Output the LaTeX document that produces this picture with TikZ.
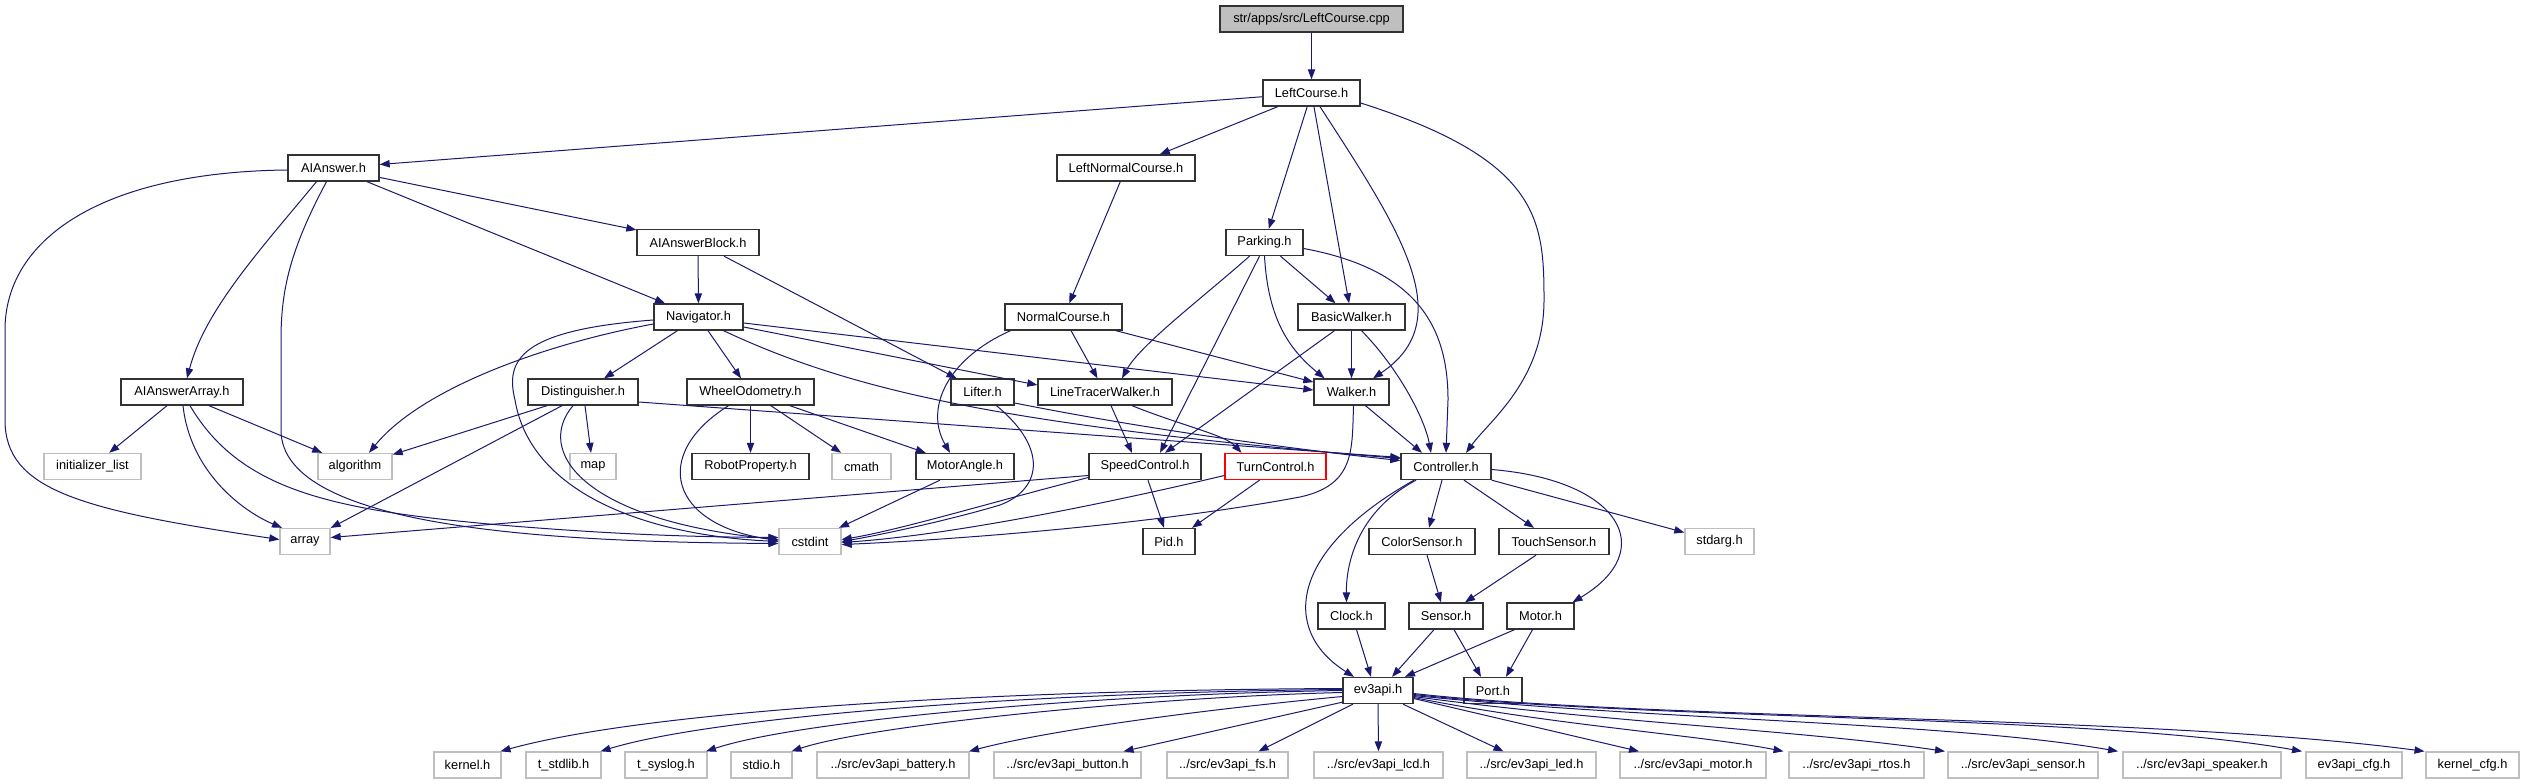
\documentclass[tikz,border=0pt]{standalone}
\usepackage{fontspec}
\setmainfont{Liberation Sans}
\usetikzlibrary{calc, arrows.meta}
\definecolor{navy}{RGB}{25,25,112}

\begin{document}
\begin{tikzpicture}[
  x=0.75pt, y=-0.75pt,
  hdr/.style={draw=black!80, line width=1pt, fill=white, inner sep=0pt,
    minimum height=19.5pt, font=\fontsize{9.6}{11}\selectfont},
  sys/.style={hdr, draw=gray!50},
  wd/.style={minimum width=#1*0.75pt},
  dep/.style={navy, line width=0.75pt, -{Triangle[length=7.5pt,width=5.5pt]}},
]
  \useasboundingbox (0,0) rectangle (2525,784);

  % file and project headers
  \node[hdr, fill=gray!50, wd=183] (root) at (1311.5,19) {str/apps/src/LeftCourse.cpp};
  \node[hdr, wd=97]  (lc)     at (1311.5,93)  {LeftCourse.h};
  \node[hdr, wd=91]  (aia)    at (333.5,168)  {AIAnswer.h};
  \node[hdr, wd=138] (lnc)    at (1126,168)   {LeftNormalCourse.h};
  \node[hdr, wd=122] (aib)    at (698,242.5)  {AIAnswerBlock.h};
  \node[hdr, wd=77]  (park)   at (1264.5,242.5) {Parking.h};
  \node[hdr, wd=89]  (nav)    at (698.5,317)  {Navigator.h};
  \node[hdr, wd=117] (nc)     at (1063.5,317) {NormalCourse.h};
  \node[hdr, wd=107] (basicw) at (1351.5,317) {BasicWalker.h};
  \node[hdr, wd=122] (aiarr)  at (182,392)    {AIAnswerArray.h};
  \node[hdr, wd=110] (dist)   at (583,392)    {Distinguisher.h};
  \node[hdr, wd=127] (wodo)   at (750.5,392)  {WheelOdometry.h};
  \node[hdr, wd=63]  (lift)   at (982.5,392)  {Lifter.h};
  \node[hdr, wd=134] (ltw)    at (1105,392)   {LineTracerWalker.h};
  \node[hdr, wd=75]  (walk)   at (1351.5,392) {Walker.h};
  \node[sys, wd=97]  (init)   at (92.5,466.5) {initializer\_list};
  \node[sys, wd=74]  (algo)   at (355,466.5)  {algorithm};
  \node[sys, wd=46]  (map)    at (593,466.5)  {map};
  \node[hdr, wd=117] (robot)  at (750.5,466.5) {RobotProperty.h};
  \node[sys, wd=59]  (cmath)  at (861.5,466.5) {cmath};
  \node[hdr, wd=98]  (mang)   at (965,466.5)  {MotorAngle.h};
  \node[hdr, wd=112] (spd)    at (1145,466.5) {SpeedControl.h};
  \node[hdr, draw=red, wd=101] (turn) at (1275.5,466.5) {TurnControl.h};
  \node[hdr, wd=90]  (ctrl)   at (1446,466.5) {Controller.h};
  \node[sys, wd=50]  (arr)    at (305,541.5)  {array};
  \node[sys, wd=62]  (cstd)   at (810,541.5)  {cstdint};
  \node[hdr, wd=52]  (pid)    at (1169,541.5) {Pid.h};
  \node[hdr, wd=106] (color)  at (1422,541.5) {ColorSensor.h};
  \node[hdr, wd=110] (touch)  at (1554,541.5) {TouchSensor.h};
  \node[sys, wd=69]  (stdarg) at (1719.5,541.5) {stdarg.h};
  \node[hdr, wd=67]  (clock)  at (1351.5,616) {Clock.h};
  \node[hdr, wd=74]  (sensor) at (1446,616)   {Sensor.h};
  \node[hdr, wd=67]  (motor)  at (1540.5,616) {Motor.h};
  \node[hdr, wd=70]  (ev3)    at (1378,690.5) {ev3api.h};
  \node[hdr, wd=58]  (port)   at (1493,690.5) {Port.h};

  % ev3api row
  \node[sys, wd=67]  (kern)  at (467.5,765)  {kernel.h};
  \node[sys, wd=75]  (tstd)  at (563.5,765)  {t\_stdlib.h};
  \node[sys, wd=82]  (tsys)  at (666,765)    {t\_syslog.h};
  \node[sys, wd=61]  (stdio) at (761.5,765)  {stdio.h};
  \node[sys, wd=152] (batt)  at (893,765)    {../src/ev3api\_battery.h};
  \node[sys, wd=147] (btn)   at (1067.5,765) {../src/ev3api\_button.h};
  \node[sys, wd=121] (fs)    at (1227.5,765) {../src/ev3api\_fs.h};
  \node[sys, wd=129] (lcd)   at (1378.5,765) {../src/ev3api\_lcd.h};
  \node[sys, wd=129] (led)   at (1531.5,765) {../src/ev3api\_led.h};
  \node[sys, wd=146] (mot)   at (1693,765)   {../src/ev3api\_motor.h};
  \node[sys, wd=135] (rtos)  at (1856.5,765) {../src/ev3api\_rtos.h};
  \node[sys, wd=150] (sens)  at (2023,765)   {../src/ev3api\_sensor.h};
  \node[sys, wd=158] (spk)   at (2202,765)   {../src/ev3api\_speaker.h};
  \node[sys, wd=96]  (cfg)   at (2354,765)   {ev3api\_cfg.h};
  \node[sys, wd=93]  (kcfg)  at (2472.5,765) {kernel\_cfg.h};

  % LeftCourse
  \draw[dep] (root) -- (lc);
  \draw[dep] (lc) -- (aia);
  \draw[dep] (lc) -- (lnc);
  \draw[dep] (lc) -- (park);
  \draw[dep] (lc) -- (basicw);
  \draw[dep] ($(lc.south)+(8.5,0)$) .. controls (1400,230) and (1460,320) .. ($(walk.north)+(21.5,0)$);
  \draw[dep] ($(lc.east)+(0,10)$) .. controls (1540,160) and (1544,220) .. (1544,300)
    .. controls (1544,380) and (1490,420) .. ($(ctrl.north)+(20,0)$);

  % AIAnswer
  \draw[dep] ($(aia.west)+(0,2)$) .. controls (100,172) and (5,240) .. (5,330) -- (5,420)
    .. controls (5,490) and (80,510) .. ($(arr.west)+(0,-2)$);
  \draw[dep] ($(aia.south)+(-17,0)$) .. controls (260,250) and (205,310) .. ($(aiarr.north)+(5,0)$);
  \draw[dep] ($(aia.south)+(-7,0)$) .. controls (290,250) and (281,290) .. (281,340) -- (281,430)
    .. controls (281,530) and (560,542) .. ($(cstd.west)+(0,2)$);
  \draw[dep] (aia) -- (nav);
  \draw[dep] (aia) -- (aib);
  \draw[dep] (aib) -- (nav);
  \draw[dep] (aib) -- (lift);
  \draw[dep] (lnc) -- (nc);

  % Parking, NormalCourse, BasicWalker
  \draw[dep] (park) -- (basicw);
  \draw[dep] (park.south) .. controls (1268,320) and (1290,350) .. ($(walk.north)+(-27,0)$);
  \draw[dep] ($(park.east)+(0,6)$) .. controls (1420,270) and (1448,330) .. (1448,400) -- (ctrl.north);
  \draw[dep] ($(park.south)+(-15,0)$) .. controls (1200,300) and (1140,345) .. ($(ltw.north)+(17,0)$);
  \draw[dep] ($(park.south)+(-5,0)$) -- ($(spd.north)+(15,0)$);
  \draw[dep] ($(nc.south)+(-53,0)$) .. controls (945,360) and (925,410) .. ($(mang.north)+(-15,0)$);
  \draw[dep] (nc) -- (ltw);
  \draw[dep] (nc) -- (walk);
  \draw[dep] (basicw) -- (walk);
  \draw[dep] ($(basicw.south)+(10,0)$) .. controls (1400,370) and (1425,420) .. ($(ctrl.north)+(-15,0)$);
  \draw[dep] ($(basicw.south)+(-17,0)$) -- ($(spd.north)+(20,0)$);

  % Navigator
  \draw[dep] (nav) -- (dist);
  \draw[dep] (nav) -- (wodo);
  \draw[dep] ($(nav.west)+(0,7)$) .. controls (540,345) and (420,390) .. ($(algo.north)+(14,0)$);
  \draw[dep] ($(nav.west)+(0,3)$) .. controls (520,330) and (505,360) .. (515,400)
    .. controls (530,490) and (640,535) .. (cstd.west);
  \draw[dep] ($(nav.east)+(0,6)$) -- ($(walk.west)+(0,-2)$);
  \draw[dep] ($(nav.east)+(0,10)$) -- ($(ltw.west)+(0,-7)$);
  \draw[dep] ($(nav.south)+(25,0)$) .. controls (850,390) and (1000,425) .. ($(ctrl.west)+(0,-8)$);

  % AIAnswerArray, Distinguisher, WheelOdometry
  \draw[dep] ($(aiarr.south)+(-15,0)$) -- (init);
  \draw[dep] ($(aiarr.south)+(27,0)$) -- (algo);
  \draw[dep] ($(aiarr.south)+(1,0)$) .. controls (190,470) and (240,510) .. ($(arr.north)+(-23,0)$);
  \draw[dep] ($(aiarr.south)+(8,0)$) .. controls (240,490) and (330,510) .. (500,525)
    .. controls (620,535) and (700,537) .. ($(cstd.west)+(0,-4)$);
  \draw[dep] ($(dist.south)+(-36,0)$) -- (algo);
  \draw[dep] ($(dist.south)+(-21,0)$) -- (arr);
  \draw[dep] ($(dist.south)+(2,0)$) -- ($(map.north)+(-2,0)$);
  \draw[dep] ($(dist.south)+(-10,0)$) .. controls (535,450) and (580,520) .. ($(cstd.west)+(0,-2)$);
  \draw[dep] ($(dist.east)+(0,10)$) -- ($(ctrl.west)+(0,-9)$);
  \draw[dep] (wodo) -- (robot);
  \draw[dep] (wodo) -- (cmath);
  \draw[dep] (wodo) -- (mang);
  \draw[dep] ($(wodo.south)+(-22,0)$) .. controls (650,455) and (670,525) .. ($(cstd.west)+(0,-1)$);

  % Lifter, LineTracerWalker, Walker
  \draw[dep] ($(lift.south)+(14,0)$) .. controls (1050,450) and (1040,490) .. (1000,505)
    .. controls (950,520) and (880,535) .. (cstd.east);
  \draw[dep] ($(lift.east)+(0,11)$) .. controls (1150,430) and (1300,450) .. ($(ctrl.west)+(0,-6)$);
  \draw[dep] ($(ltw.south)+(6,0)$) -- ($(spd.north)+(-13,0)$);
  \draw[dep] ($(ltw.south)+(27,0)$) .. controls (1180,425) and (1225,435) .. ($(turn.north)+(-34,0)$);
  \draw[dep] ($(walk.south)+(14,0)$) -- ($(ctrl.north)+(-24,0)$);
  \draw[dep] ($(walk.south)+(2,0)$) .. controls (1352,450) and (1355,485) .. (1300,497)
    .. controls (1150,525) and (950,540) .. ($(cstd.east)+(0,3)$);

  % second level
  \draw[dep] ($(mang.south)+(-25,0)$) -- (cstd);
  \draw[dep] ($(spd.west)+(0,9)$) -- ($(arr.east)+(0,-4)$);
  \draw[dep] ($(spd.west)+(0,11)$) .. controls (1000,500) and (900,530) .. ($(cstd.east)+(0,-2)$);
  \draw[dep] ($(turn.west)+(0,9)$) .. controls (1100,505) and (950,535) .. ($(cstd.east)+(0,1)$);
  \draw[dep] ($(spd.south)+(3,0)$) -- ($(pid.north)+(-5,0)$);
  \draw[dep] ($(turn.south)+(-16,0)$) -- ($(pid.north)+(23,0)$);

  % Controller
  \draw[dep] ($(ctrl.south)+(-4,0)$) -- ($(color.north)+(7,0)$);
  \draw[dep] ($(ctrl.south)+(18,0)$) -- ($(touch.north)+(-20,0)$);
  \draw[dep] (ctrl.south east) -- ($(stdarg.west)+(0,-9)$);
  \draw[dep] ($(ctrl.south)+(-30,0)$) .. controls (1360,510) and (1346,560) .. ($(clock.north)+(-5,0)$);
  \draw[dep] ($(ctrl.south)+(-32,0)$) .. controls (1290,550) and (1280,630) .. ($(ev3.north)+(-24,0)$);
  \draw[dep] ($(ctrl.east)+(0,3)$) .. controls (1620,480) and (1660,550) .. ($(motor.north)+(32,0)$);
  \draw[dep] ($(color.south)+(5,0)$) -- ($(sensor.north)+(-5,0)$);
  \draw[dep] ($(touch.south)+(-18,0)$) -- ($(sensor.north)+(19,0)$);
  \draw[dep] ($(clock.south)+(5,0)$) -- ($(ev3.north)+(-7,0)$);
  \draw[dep] ($(sensor.south)+(-12,0)$) -- ($(ev3.north)+(14,0)$);
  \draw[dep] ($(sensor.south)+(8,0)$) -- ($(port.north)+(-12,0)$);
  \draw[dep] ($(motor.south)+(-26,0)$) -- ($(ev3.north)+(27,0)$);
  \draw[dep] ($(motor.south)+(-8,0)$) -- ($(port.north)+(13,0)$);

  % ev3api
  \draw[dep] ($(ev3.west)+(0,-2)$) .. controls (1000,690) and (650,710) .. ($(kern.north)+(33,0)$);
  \draw[dep] ($(ev3.west)+(0,-1)$) .. controls (1050,692) and (720,715) .. ($(tstd.north)+(37,0)$);
  \draw[dep] (ev3.west) .. controls (1100,694) and (800,720) .. ($(tsys.north)+(40,0)$);
  \draw[dep] ($(ev3.west)+(0,2)$) .. controls (1150,697) and (870,725) .. ($(stdio.north)+(30,0)$);
  \draw[dep] ($(ev3.west)+(0,6)$) .. controls (1200,710) and (1050,730) .. ($(batt.north)+(76,0)$);
  \draw[dep] ($(ev3.south west)+(0,-2)$) -- ($(btn.north)+(56,0)$);
  \draw[dep] ($(ev3.south)+(-25,0)$) -- ($(fs.north)+(31,0)$);
  \draw[dep] (ev3.south) -- (lcd.north);
  \draw[dep] ($(ev3.south)+(25,0)$) -- ($(led.north)+(-28,0)$);
  \draw[dep] ($(ev3.east)+(0,8)$) -- ($(mot.north)+(-54,0)$);
  \draw[dep] ($(ev3.east)+(0,7)$) .. controls (1550,725) and (1700,735) .. ($(rtos.north)+(-73,0)$);
  \draw[dep] ($(ev3.east)+(0,6)$) .. controls (1600,722) and (1800,730) .. ($(sens.north)+(-78,0)$);
  \draw[dep] ($(ev3.east)+(0,5)$) .. controls (1650,720) and (1950,722) .. ($(spk.north)+(-84,0)$);
  \draw[dep] ($(ev3.east)+(0,4)$) .. controls (1650,720) and (2100,715) .. ($(cfg.north)+(-52,0)$);
  \draw[dep] ($(ev3.east)+(0,3)$) .. controls (1650,720) and (2150,715) .. ($(kcfg.north)+(-48,0)$);
\end{tikzpicture}
\end{document}
